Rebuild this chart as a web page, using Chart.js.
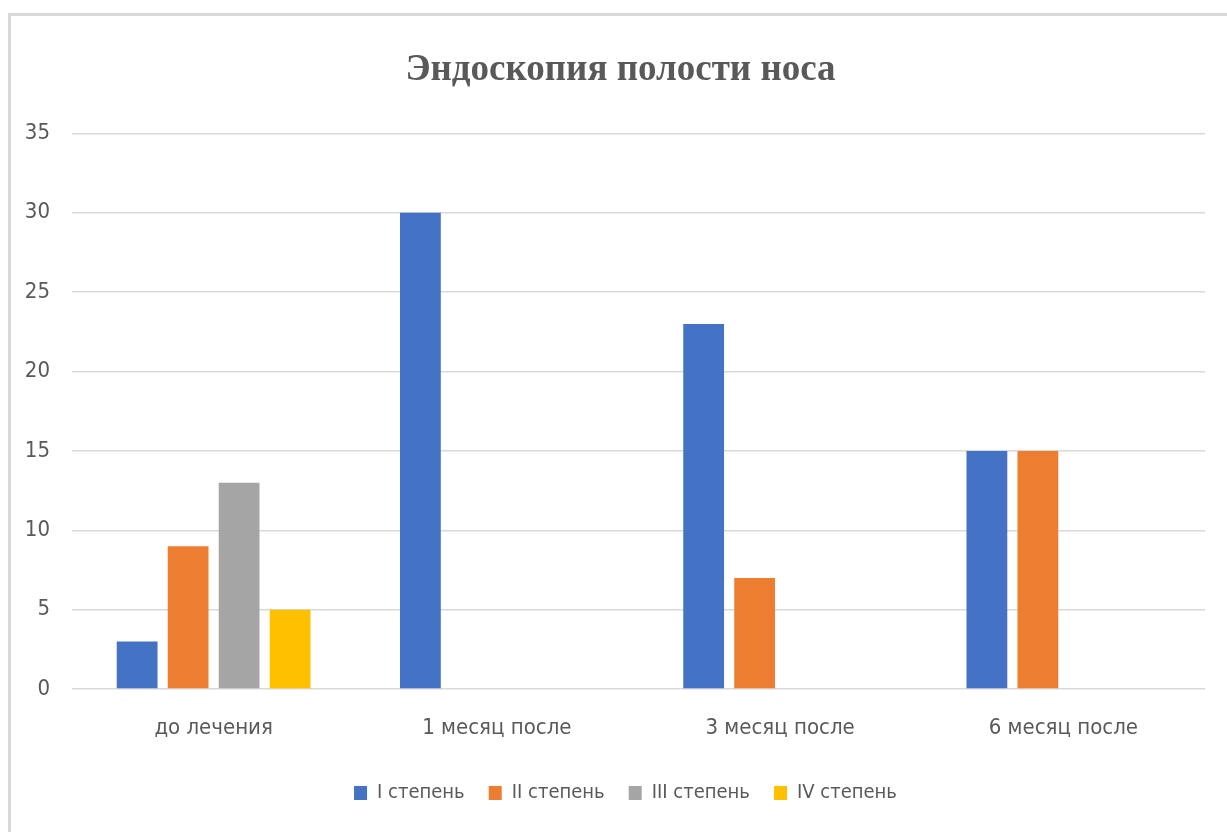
<!DOCTYPE html>
<html>
<head>
<meta charset="utf-8">
<script src="https://cdn.jsdelivr.net/npm/chart.js@4.4.1/dist/chart.umd.min.js"></script>
<style>
  html, body { margin: 0; padding: 0; background: #fff; overflow: hidden; }
  #frame {
    position: absolute; left: 8px; top: 13px;
    width: 1300px; height: 900px;
    border: 3px solid #d9d9d9;
  }
  #wrap { position: absolute; left: 0; top: 0; width: 1227px; height: 832px; }
</style>
</head>
<body>
<div id="frame"></div>
<div id="wrap"><canvas id="barChart"></canvas></div>
<script>
var categories = ["до лечения", "1 месяц после", "3 месяц после", "6 месяц после"];
var seriesNames = ["I степень", "II степень", "III степень", "IV степень"];
var stage1 = [3, 30, 23, 15];
var stage2 = [9, 0, 7, 15];
var stage3 = [13, 0, 0, 0];
var stage4 = [5, 0, 0, 0];
var yTicks = [0, 5, 10, 15, 20, 25, 30, 35];

var colors = ["#4472C4", "#ED7D31", "#A5A5A5", "#FFC000"];
var labelFont = "'Liberation Sans Narrow', 'DejaVu Sans Condensed', sans-serif";
var textColor = "#595959";

// legend is tall because of the wide item padding, so squeeze its height;
// title and legend are centred on the whole frame, so push them a bit right
var layoutTweaks = {
    id: "layoutTweaks",
    beforeInit: function (chart) {
        var fitOrig = chart.legend.fit;
        chart.legend.fit = function () {
            fitOrig.bind(chart.legend)();
            this.height = 44;
        };
    },
    afterLayout: function (chart) {
        chart.titleBlock.right += 36;
        chart.legend.right += 46;
    }
};

var ctx = document.getElementById("barChart");
new Chart(ctx, {
    type: "bar",
    data: {
        labels: categories,
        datasets: [stage1, stage2, stage3, stage4].map(function (vals, i) {
            return {
                label: seriesNames[i],
                data: vals,
                backgroundColor: colors[i],
                borderWidth: 0,
                barPercentage: 0.8,
                categoryPercentage: 0.72
            };
        })
    },
    options: {
        responsive: true,
        maintainAspectRatio: false,
        animation: false,
        layout: { padding: { top: 48, right: 22, bottom: 29, left: 0 } },
        plugins: {
            title: {
                display: true,
                text: "Эндоскопия полости носа",
                color: textColor,
                font: { family: "'Liberation Serif', 'DejaVu Serif', serif", size: 37, weight: "bold" },
                padding: { top: 0, bottom: 41 }
            },
            legend: {
                position: "bottom",
                labels: {
                    color: textColor,
                    font: { family: labelFont, size: 20 },
                    boxWidth: 13,
                    boxHeight: 14,
                    padding: 24
                }
            },
            tooltip: { enabled: false }
        },
        scales: {
            x: {
                afterFit: function (axis) { axis.height = 70; },
                grid: { display: false },
                border: { display: false },
                ticks: { color: textColor, font: { family: labelFont, size: 22 }, padding: 18 }
            },
            y: {
                min: 0,
                max: 35,
                afterBuildTicks: function (axis) {
                    axis.ticks = yTicks.map(function (v) { return { value: v }; });
                },
                afterFit: function (axis) { axis.width = 72; },
                grid: { color: "#d9d9d9", lineWidth: 1.5, drawTicks: false },
                border: { display: false },
                ticks: { color: textColor, font: { family: labelFont, size: 22 }, padding: 22 }
            }
        }
    },
    plugins: [layoutTweaks]
});
</script>
</body>
</html>
